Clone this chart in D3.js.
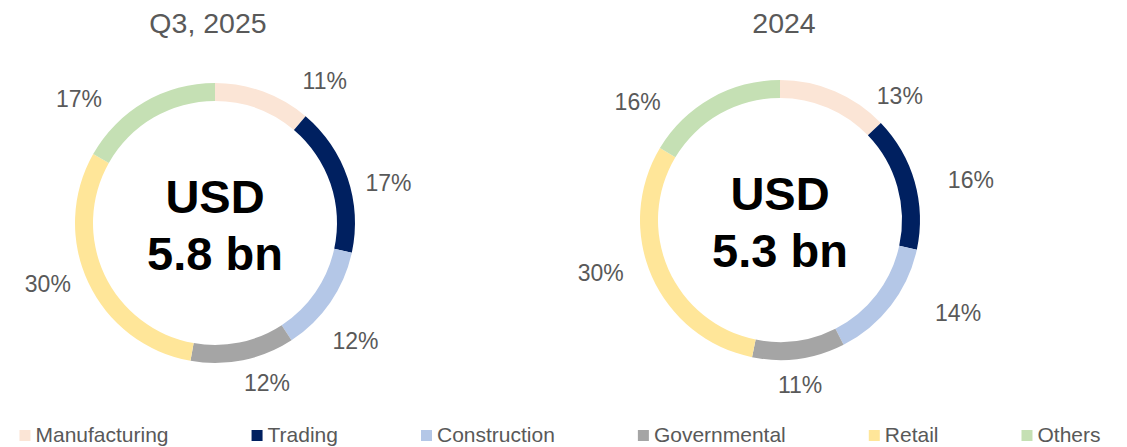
<!DOCTYPE html>
<html>
<head>
<meta charset="utf-8">
<script src="https://cdn.jsdelivr.net/npm/d3@7"></script>
<style>
  body { margin: 0; background: #fff; }
  svg { display: block; font-family: "Liberation Sans", Arial, sans-serif; }
</style>
</head>
<body>
<div id="chart"></div>
<script>
const categories = ["Manufacturing", "Trading", "Construction", "Governmental", "Retail", "Others"];
const colors = ["#fbe5d6", "#002060", "#b4c7e7", "#a5a5a5", "#ffe699", "#c5e0b4"];

// shares in %
const q3_2025 = [11.2, 17.2, 12.4, 12.0, 30.4, 16.8];
const fy2024 = [12.8, 15.6, 14.1, 10.7, 30.4, 16.4];

const titles = ["Q3, 2025", "2024"];
const totals = ["5.8 bn", "5.3 bn"];

const width = 1127;
const height = 447;

// layout of each ring, labels nudged like the hand placed ones in the original
const rings = [
    { values: q3_2025, cx: 215, cy: 223, nudge: [17.4, 5.8, 5.3, -6.5, 5.1, -17.4], dist: [180, 178, 183, 168, 178, 184] },
    { values: fy2024, cx: 780, cy: 220, nudge: [20.8, 4.0, -10, 0.8, 7.3, -20.8], dist: [173, 195, 201, 166, 187, 185] }
];

const outerR = 140;
const innerR = 122;
const grey = "#595959";

const svg = d3.select("#chart")
    .append("svg")
    .attr("width", width)
    .attr("height", height);

const color = d3.scaleOrdinal().domain(categories).range(colors);

const pie = d3.pie().sort(null).value(d => d.value);
const arc = d3.arc().innerRadius(innerR).outerRadius(outerR);

rings.forEach((ring, i) => {
    const data = categories.map((c, j) => ({ label: c, value: ring.values[j] }));
    const g = svg.append("g").attr("transform", `translate(${ring.cx},${ring.cy})`);

    g.selectAll("path")
        .data(pie(data))
        .join("path")
        .attr("d", arc)
        .attr("fill", d => color(d.data.label));

    // percentage labels outside the ring
    g.selectAll("text.pct")
        .data(pie(data))
        .join("text")
        .attr("class", "pct")
        .attr("transform", (d, j) => {
            const a = (d.startAngle + d.endAngle) / 2 + ring.nudge[j] * Math.PI / 180;
            const r = ring.dist[j];
            return `translate(${r * Math.sin(a)},${-r * Math.cos(a)})`;
        })
        .attr("text-anchor", "middle")
        .attr("dy", "0.36em")
        .attr("fill", grey)
        .style("font-size", "23px")
        .text(d => Math.round(d.data.value) + "%");

    // total in the hole
    g.append("text")
        .attr("text-anchor", "middle")
        .attr("y", -10)
        .style("font-size", "47px")
        .style("font-weight", "bold")
        .attr("fill", "#000")
        .text("USD");
    g.append("text")
        .attr("text-anchor", "middle")
        .attr("y", 47)
        .style("font-size", "47px")
        .style("font-weight", "bold")
        .attr("fill", "#000")
        .text(totals[i]);

    svg.append("text")
        .attr("x", ring.cx + (i === 0 ? -7 : 4))
        .attr("y", 33)
        .attr("text-anchor", "middle")
        .attr("fill", grey)
        .style("font-size", "28.5px")
        .text(titles[i]);
});

// legend along the bottom
const legend = svg.append("g");
let x = 0;
categories.forEach(c => {
    const item = legend.append("g").attr("transform", `translate(${x},0)`);
    item.append("rect")
        .attr("x", 0)
        .attr("y", 430)
        .attr("width", 11)
        .attr("height", 11)
        .attr("fill", color(c));
    const t = item.append("text")
        .attr("x", 16)
        .attr("y", 442)
        .attr("fill", grey)
        .style("font-size", "21px")
        .text(c);
    x += 16 + t.node().getComputedTextLength() + 83;
});
const legendW = x - 83;
legend.attr("transform", `translate(${(560 - legendW / 2)},0)`);
</script>
</body>
</html>
